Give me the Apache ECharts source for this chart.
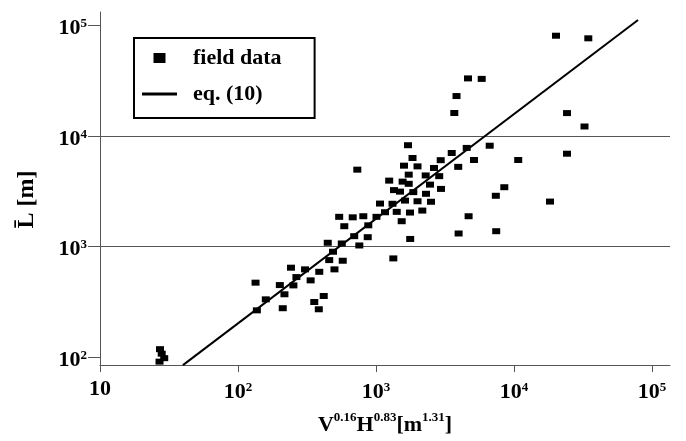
<!DOCTYPE html>
<html><head><meta charset="utf-8">
<script src="https://cdn.jsdelivr.net/npm/echarts@6/dist/echarts.min.js"></script>
<style>html,body{margin:0;padding:0;background:#fff}#c{width:686px;height:441px}</style>
</head><body><div id="c"></div>
<script>
// field data: x = V^0.16 H^0.83 [m^1.31], y = mean runout L [m]
var fieldX = [134,137,159,201,217,211,242,252,265,306,336,388,357,418,385,447,458,488,500,541,565,574,589,678,695,757,809,871,879,1008,1069,1162,1335,732,1317,1413,1535,1769,1764,2165,1622,1999,2503,1350,1492,1863,2303,1246,1559,1726,2462,2958,1726,2291,2871,1595,1999,2632,3942,1839,2943,5129,1706,3537,4542,6665,10725,24220,8505,7383,18235,4688,3968,7430,3693,3832,4642,5834,24220,32420,20150,34540,27.2,28.0,29.2,27.0];
var fieldY = [470,264,332,447,369,276,642,444,528,620,493,589,314,356,270,1079,752,895,620,1852,1063,742,1523,1833,1238,1020,1875,1212,1552,1852,2441,2038,779,4947,2431,2054,1690,1168,2025,2110,2598,2561,2534,3231,3131,3099,2992,3937,3856,3683,3622,3313,4459,4385,4322,5375,5298,5125,5244,6308,6027,6051,8232,6998,7780,8146,6051,6898,3432,2871,2545,1875,1309,1373,16100,22920,33110,32770,16070,12160,80540,76290,117.6,107.1,97.5,90.7];
// eq. (10) line end points
var fitX = [39.9, 79200];
var fitY = [84.4, 111600];
// axis ticks
var xTicks = [10, 100, 1000, 10000, 100000];
var yTicks = [100, 1000, 10000, 100000];

var FONT = 'Liberation Serif';
function pow10Label(v) {
  var e = Math.round(Math.log10(v));
  if (e === 1) return '{p|10}';
  return '{b|10}{s|' + e + '}';
}
var richLab = {
  p: {fontFamily: FONT, fontWeight: 'bold', fontSize: 22, lineHeight: 22, color: '#000'},
  b: {fontFamily: FONT, fontWeight: 'bold', fontSize: 22, lineHeight: 22, color: '#000', padding: [6, 0, 0, 0]},
  s: {fontFamily: FONT, fontWeight: 'bold', fontSize: 13, lineHeight: 13, color: '#000', verticalAlign: 'top', padding: [3, 0, 0, 0]}
};
var fieldData = fieldX.map(function (x, i) { return [x, fieldY[i]]; });
var fitData = fitX.map(function (x, i) { return [x, fitY[i]]; });

var chart = echarts.init(document.getElementById('c'), null, {renderer: 'canvas'});
chart.setOption({
  animation: false,
  backgroundColor: '#fff',
  grid: {left: 100, right: 16, top: 12, bottom: 75, containLabel: false},
  legend: {
    left: 134, top: 38, orient: 'vertical',
    backgroundColor: '#fff',
    borderColor: '#000', borderWidth: 2, borderRadius: 0,
    padding: [9, 33, 13, 8],
    itemGap: 14, itemWidth: 35, itemHeight: 10,
    textStyle: {fontFamily: FONT, fontWeight: 'bold', fontSize: 22, lineHeight: 22, color: '#000', padding: [0, 0, 0, 11]},
    data: [
      {name: 'field data', icon: 'path://M0,0H12V10H0Z', itemStyle: {color: '#000', opacity: 1}},
      {name: 'eq. (10)', icon: 'path://M0,0H35V3H0Z', itemStyle: {color: '#000', opacity: 1}}
    ]
  },
  xAxis: {
    type: 'log', logBase: 10, min: 10, max: 135000,
    name: '{b|V}{s|0.16}{b|H}{s|0.83}{b|[m}{s|1.31}{b|]}',
    nameLocation: 'middle', nameGap: 32,
    nameTextStyle: {
      rich: {
        b: {fontFamily: FONT, fontWeight: 'bold', fontSize: 22, lineHeight: 22, color: '#000', padding: [6, 0, 0, 0]},
        s: {fontFamily: FONT, fontWeight: 'bold', fontSize: 13, lineHeight: 13, color: '#000', verticalAlign: 'top'}
      }
    },
    axisLine: {show: true, lineStyle: {color: '#555', width: 1}},
    axisTick: {show: true, inside: false, length: 7, customValues: xTicks, lineStyle: {color: '#555', width: 1}},
    axisLabel: {show: true, margin: 13, customValues: xTicks, formatter: pow10Label, rich: richLab, verticalAlign: 'top'},
    splitLine: {show: false},
    minorTick: {show: false}
  },
  yAxis: {
    type: 'log', logBase: 10, min: 84.4, max: 132000,
    name: 'L\u0304 [m]',
    nameLocation: 'middle', nameGap: 61, nameRotate: 90,
    nameTextStyle: {fontFamily: FONT, fontWeight: 'bold', fontSize: 24, color: '#000', padding: [0, 22, 0, 0]},
    axisLine: {show: true, lineStyle: {color: '#555', width: 1}},
    axisTick: {show: true, inside: false, length: 12, customValues: yTicks, lineStyle: {color: '#555', width: 1}},
    axisLabel: {show: true, margin: 13, customValues: yTicks, formatter: pow10Label, rich: richLab},
    splitLine: {show: true, showMinLine: false, showMaxLine: false, lineStyle: {color: '#555', width: 1}},
    minorTick: {show: false}
  },
  series: [
    {
      name: 'field data', type: 'scatter',
      symbol: 'rect', symbolSize: [8, 6],
      itemStyle: {color: '#000', opacity: 1},
      data: fieldData, z: 3
    },
    {
      name: 'eq. (10)', type: 'line',
      showSymbol: false, symbol: 'none',
      lineStyle: {color: '#000', width: 2},
      itemStyle: {color: '#000'},
      data: fitData, z: 2
    }
  ]
});
</script></body></html>
